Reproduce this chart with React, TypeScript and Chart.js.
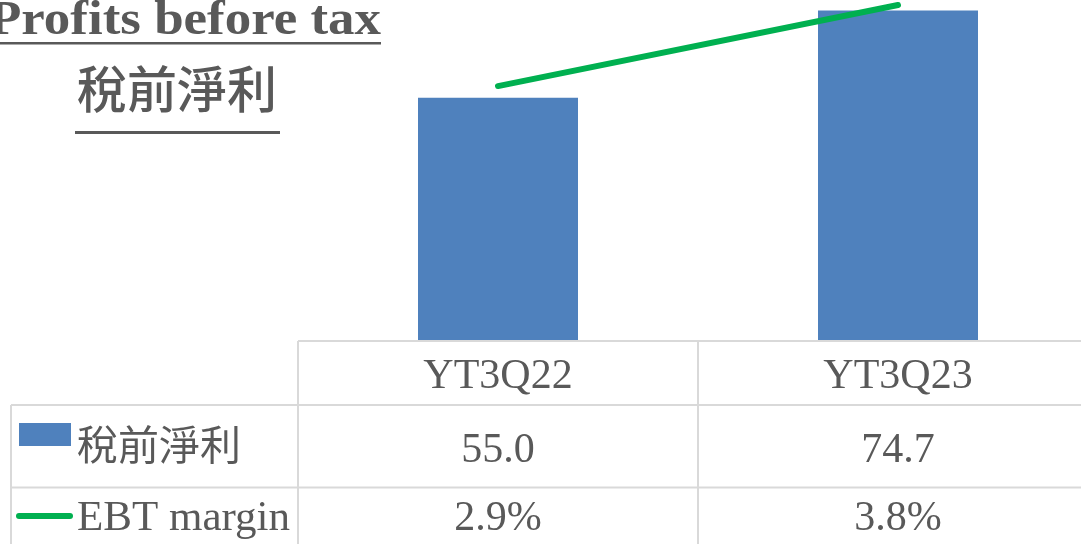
import React, { useEffect, useRef } from "react";
import { Chart, registerables } from "chart.js";

Chart.register(...registerables);

const categories = ["YT3Q22", "YT3Q23"];
const profitValues = [55.0, 74.7];
const marginValues = [2.9, 3.8];
const seriesLabels = ["稅前淨利", "EBT margin"];
const titleEn = "Profits before tax";
const titleZh = "稅前淨利";

const BAR_COLOR = "#4F81BD";
const LINE_COLOR = "#00B050";
const TEXT_COLOR = "#595959";
const GRID_COLOR = "#D9D9D9";
const SERIF = "'Liberation Serif', 'Times New Roman', serif";
const CJK = "'Noto Sans CJK TC', 'Noto Sans CJK SC', sans-serif";

const CANVAS_W = 1110;
const CANVAS_H = 560;
const OFF_Y = 13; // canvas y = page y + OFF_Y

const tablePlugin = {
  id: "tablePlugin",
  afterDraw(chart: any) {
    const ctx = chart.ctx as CanvasRenderingContext2D;
    const xs = chart.scales.x;
    const area = chart.chartArea;
    const colX = categories.map((_, i) => xs.getPixelForValue(i));
    const Y = (v: number) => v + OFF_Y;
    ctx.save();

    // Titles
    ctx.fillStyle = TEXT_COLOR;
    ctx.font = `bold 48px ${SERIF}`;
    const w = ctx.measureText(titleEn).width;
    const targetW = 392;
    ctx.save();
    ctx.translate(381, Y(34));
    ctx.scale(targetW / w, 1);
    ctx.textAlign = "right";
    ctx.textBaseline = "alphabetic";
    ctx.fillText(titleEn, 0, 0);
    ctx.restore();
    ctx.fillRect(0, Y(42), 381, 2.5);

    ctx.font = `500 50px ${CJK}`;
    ctx.textAlign = "center";
    ctx.fillText(titleZh, 177, Y(108));
    ctx.fillRect(75, Y(131), 205, 3);

    // Table grid
    ctx.strokeStyle = GRID_COLOR;
    ctx.lineWidth = 2;
    const colBoundary = (colX[0] + colX[1]) / 2;
    const bottom = Y(560);
    const lines: number[][] = [
      [area.left, Y(341), area.right, Y(341)],
      [11, Y(405), area.right, Y(405)],
      [11, Y(487.5), area.right, Y(487.5)],
      [area.left, Y(341), area.left, bottom],
      [colBoundary, Y(341), colBoundary, bottom],
      [area.right, Y(341), area.right, bottom],
      [11, Y(405), 11, bottom],
    ];
    ctx.beginPath();
    for (const [x1, y1, x2, y2] of lines) {
      ctx.moveTo(x1, y1);
      ctx.lineTo(x2, y2);
    }
    ctx.stroke();

    // Table text
    ctx.fillStyle = TEXT_COLOR;
    ctx.font = `42px ${SERIF}`;
    ctx.textAlign = "center";
    ctx.textBaseline = "alphabetic";
    categories.forEach((c, i) => ctx.fillText(c, colX[i], Y(388)));
    profitValues.forEach((v, i) => ctx.fillText(v.toFixed(1), colX[i], Y(462)));
    marginValues.forEach((v, i) => ctx.fillText(v.toFixed(1) + "%", colX[i], Y(530)));

    // Legend keys
    ctx.fillStyle = BAR_COLOR;
    ctx.fillRect(19, Y(423), 52, 23);
    ctx.strokeStyle = LINE_COLOR;
    ctx.lineWidth = 6;
    ctx.lineCap = "round";
    ctx.beginPath();
    ctx.moveTo(19, Y(516));
    ctx.lineTo(70, Y(516));
    ctx.stroke();

    ctx.fillStyle = TEXT_COLOR;
    ctx.textAlign = "left";
    ctx.font = `41px ${CJK}`;
    ctx.fillText(seriesLabels[0], 77, Y(460));
    ctx.font = `43px ${SERIF}`;
    ctx.fillText(seriesLabels[1], 77, Y(530));
    ctx.restore();
  },
};

export default function App() {
  const ref = useRef<HTMLCanvasElement | null>(null);
  useEffect(() => {
    if (!ref.current) return;
    const chart = new Chart(ref.current, {
      type: "bar",
      data: {
        labels: categories,
        datasets: [
          {
            type: "line",
            label: seriesLabels[1],
            data: marginValues,
            yAxisID: "y1",
            borderColor: LINE_COLOR,
            backgroundColor: LINE_COLOR,
            borderWidth: 6,
            borderCapStyle: "round",
            pointRadius: 0,
            tension: 0,
            clip: false,
            order: 0,
          } as any,
          {
            type: "bar",
            label: seriesLabels[0],
            data: profitValues,
            yAxisID: "y",
            backgroundColor: BAR_COLOR,
            borderWidth: 0,
            categoryPercentage: 0.4,
            barPercentage: 1.0,
            order: 1,
          } as any,
        ],
      },
      options: {
        responsive: false,
        animation: false,
        layout: {
          padding: { left: 298, right: CANVAS_W - 1098, top: 0, bottom: CANVAS_H - (341 + OFF_Y) },
        },
        plugins: {
          legend: { display: false },
          tooltip: { enabled: false },
          title: { display: false },
        },
        scales: {
          x: { display: false, offset: true },
          y: { display: false, min: 0, max: 80 },
          y1: { display: false, min: 0.07, max: 4.0, position: "right" },
        },
      } as any,
      plugins: [tablePlugin],
    });
    return () => chart.destroy();
  }, []);

  return (
    <div
      style={{
        position: "fixed",
        left: 0,
        top: 0,
        width: 1081,
        height: 544,
        overflow: "hidden",
        background: "#ffffff",
      }}
    >
      <canvas
        ref={ref}
        width={CANVAS_W}
        height={CANVAS_H}
        style={{ position: "absolute", left: 0, top: -OFF_Y, width: CANVAS_W, height: CANVAS_H }}
      />
    </div>
  );
}
